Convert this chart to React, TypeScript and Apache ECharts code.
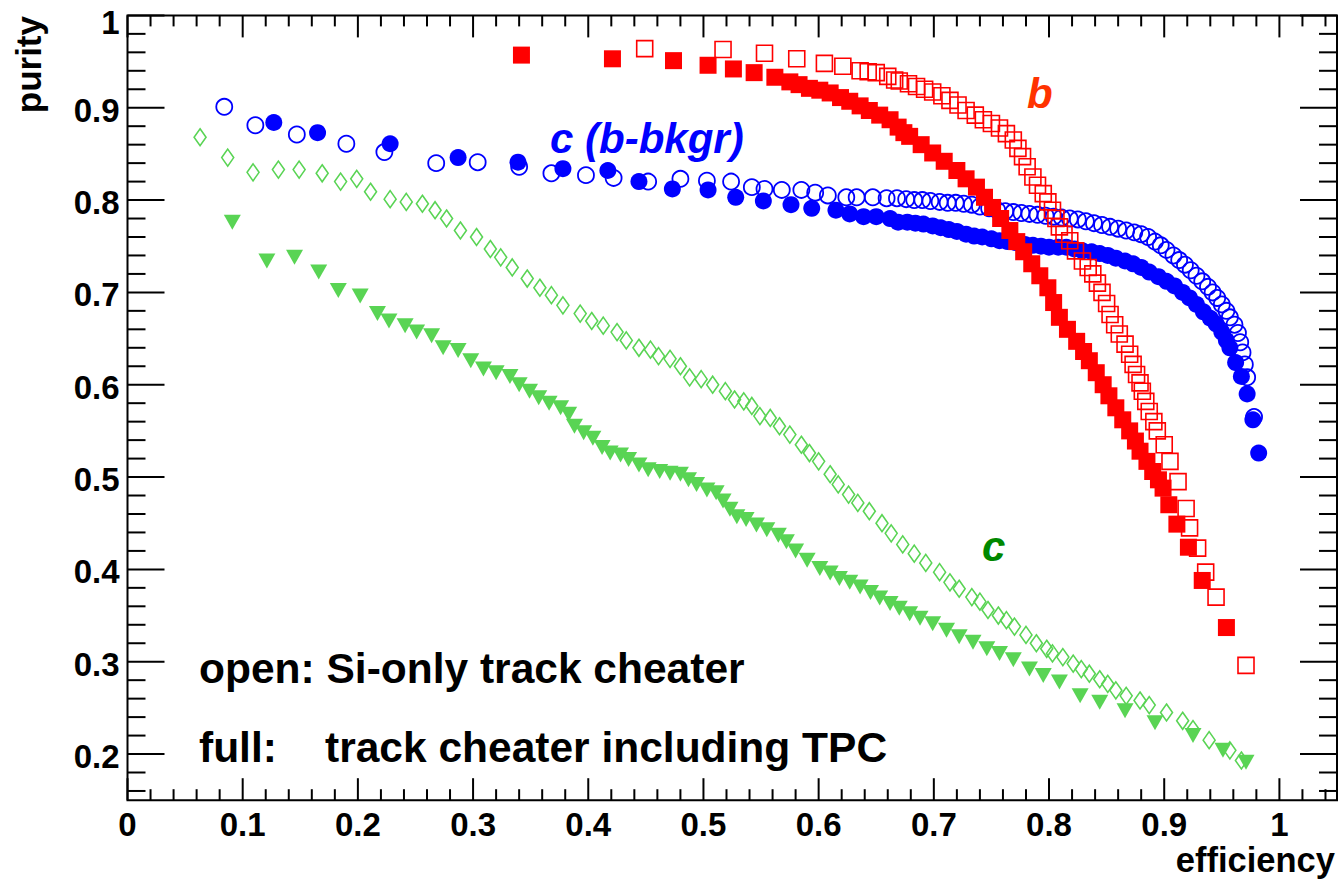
import React, { useEffect, useRef } from 'react';
import * as echarts from 'echarts';

// Axis ranges
const X_MIN = 0;
const X_MAX = 1.05;
const Y_MIN = 0.15;
const Y_MAX = 1.0;

// Tick positions (major ticks carry labels)
const xMajorTicks = [0, 0.1, 0.2, 0.3, 0.4, 0.5, 0.6, 0.7, 0.8, 0.9, 1.0];
const yMajorTicks = [0.2, 0.3, 0.4, 0.5, 0.6, 0.7, 0.8, 0.9, 1.0];
const steps = (from: number, to: number, step: number) => {
  const out: number[] = [];
  for (let v = from; v <= to + 1e-9; v += step) out.push(Math.round(v * 1000) / 1000);
  return out;
};
const isMajor = (v: number) => Math.abs(v * 10 - Math.round(v * 10)) < 1e-6;
const xMinorTicks = steps(0.02, 1.04, 0.02).filter((v) => !isMajor(v));
const yMinorTicks = steps(0.16, 0.98, 0.02).filter((v) => !isMajor(v));

// b tagging, track cheater including TPC (full squares)
const bFull: [number, number][] = [
  [0.342, 0.957], [0.421, 0.953], [0.474, 0.951], [0.504, 0.946], [0.526, 0.942], [0.544, 0.938],
  [0.562, 0.933], [0.575, 0.928], [0.583, 0.925], [0.592, 0.921], [0.601, 0.919], [0.610, 0.916],
  [0.619, 0.911], [0.627, 0.907], [0.636, 0.902], [0.644, 0.897], [0.653, 0.892], [0.662, 0.887],
  [0.669, 0.879], [0.674, 0.873], [0.679, 0.869], [0.689, 0.860], [0.699, 0.851], [0.709, 0.842],
  [0.720, 0.832], [0.728, 0.823], [0.737, 0.814], [0.744, 0.803], [0.751, 0.792], [0.758, 0.780],
  [0.766, 0.767], [0.772, 0.755], [0.778, 0.744], [0.785, 0.731], [0.792, 0.718], [0.799, 0.705],
  [0.804, 0.689], [0.809, 0.673], [0.816, 0.660], [0.824, 0.647], [0.830, 0.636], [0.835, 0.626],
  [0.841, 0.613], [0.847, 0.600], [0.852, 0.588], [0.858, 0.575], [0.864, 0.562], [0.870, 0.550],
  [0.875, 0.539], [0.879, 0.528], [0.885, 0.517], [0.890, 0.506], [0.895, 0.497], [0.899, 0.488],
  [0.904, 0.470], [0.911, 0.449], [0.921, 0.424], [0.933, 0.388], [0.954, 0.337],
];

// b tagging, Si-only track cheater (open squares)
const bOpen: [number, number][] = [
  [0.449, 0.964], [0.517, 0.963], [0.553, 0.959], [0.581, 0.953], [0.605, 0.948], [0.621, 0.945],
  [0.636, 0.940], [0.643, 0.939], [0.650, 0.938], [0.660, 0.934], [0.666, 0.930], [0.670, 0.929],
  [0.678, 0.926], [0.685, 0.923], [0.692, 0.920], [0.699, 0.917], [0.707, 0.913], [0.714, 0.908],
  [0.721, 0.903], [0.728, 0.897], [0.736, 0.892], [0.743, 0.887], [0.750, 0.883], [0.757, 0.878],
  [0.763, 0.872], [0.769, 0.865], [0.773, 0.856], [0.777, 0.847], [0.781, 0.836], [0.786, 0.825],
  [0.790, 0.816], [0.795, 0.807], [0.799, 0.798], [0.803, 0.789], [0.806, 0.780], [0.809, 0.771],
  [0.813, 0.763], [0.818, 0.756], [0.823, 0.745], [0.829, 0.734], [0.834, 0.727], [0.838, 0.720],
  [0.842, 0.710], [0.846, 0.700], [0.850, 0.688], [0.853, 0.676], [0.857, 0.665], [0.861, 0.655],
  [0.866, 0.644], [0.870, 0.633], [0.873, 0.622], [0.876, 0.611], [0.879, 0.602], [0.881, 0.593],
  [0.884, 0.582], [0.887, 0.571], [0.891, 0.560], [0.894, 0.550], [0.900, 0.535], [0.905, 0.517],
  [0.912, 0.495], [0.919, 0.466], [0.922, 0.445], [0.929, 0.423], [0.936, 0.397], [0.945, 0.370],
  [0.971, 0.296],
];

// c tagging with b background, track cheater including TPC (full circles)
const cbFull: [number, number][] = [
  [0.127, 0.884], [0.165, 0.873], [0.228, 0.861], [0.287, 0.846], [0.339, 0.841], [0.378, 0.834],
  [0.417, 0.832], [0.444, 0.820], [0.473, 0.812], [0.504, 0.811], [0.528, 0.803], [0.552, 0.799],
  [0.576, 0.795], [0.594, 0.791], [0.615, 0.789], [0.627, 0.785], [0.639, 0.782], [0.650, 0.782],
  [0.662, 0.780], [0.669, 0.776], [0.677, 0.776], [0.684, 0.775], [0.691, 0.774], [0.699, 0.772],
  [0.706, 0.770], [0.713, 0.768], [0.720, 0.766], [0.728, 0.763], [0.735, 0.761], [0.742, 0.760],
  [0.750, 0.758], [0.757, 0.756], [0.764, 0.755], [0.771, 0.754], [0.779, 0.752], [0.786, 0.751],
  [0.793, 0.750], [0.800, 0.749], [0.808, 0.749], [0.815, 0.749], [0.822, 0.747], [0.829, 0.745],
  [0.837, 0.744], [0.844, 0.742], [0.851, 0.740], [0.858, 0.737], [0.866, 0.734], [0.873, 0.731],
  [0.880, 0.727], [0.887, 0.722], [0.895, 0.717], [0.902, 0.712], [0.909, 0.707], [0.916, 0.700],
  [0.922, 0.694], [0.928, 0.687], [0.934, 0.679], [0.940, 0.672], [0.945, 0.666], [0.950, 0.657],
  [0.954, 0.648], [0.957, 0.640], [0.962, 0.624], [0.967, 0.609], [0.972, 0.590], [0.977, 0.562],
  [0.982, 0.526],
];

// c tagging with b background, Si-only track cheater (open circles)
const cbOpen: [number, number][] = [
  [0.084, 0.901], [0.111, 0.881], [0.147, 0.871], [0.190, 0.861], [0.223, 0.852], [0.268, 0.840],
  [0.304, 0.841], [0.340, 0.836], [0.368, 0.829], [0.398, 0.827], [0.422, 0.824], [0.452, 0.820],
  [0.480, 0.823], [0.503, 0.821], [0.524, 0.820], [0.542, 0.814], [0.553, 0.812], [0.568, 0.811],
  [0.585, 0.811], [0.597, 0.808], [0.608, 0.805], [0.624, 0.803], [0.633, 0.803], [0.647, 0.803],
  [0.659, 0.802], [0.668, 0.802], [0.676, 0.801], [0.683, 0.800], [0.690, 0.800], [0.697, 0.799],
  [0.705, 0.798], [0.712, 0.797], [0.719, 0.797], [0.726, 0.796], [0.733, 0.795], [0.740, 0.793],
  [0.748, 0.791], [0.755, 0.789], [0.762, 0.788], [0.769, 0.787], [0.776, 0.786], [0.783, 0.785],
  [0.790, 0.784], [0.797, 0.783], [0.804, 0.782], [0.811, 0.781], [0.818, 0.780], [0.825, 0.779],
  [0.832, 0.777], [0.839, 0.775], [0.846, 0.773], [0.853, 0.771], [0.860, 0.769], [0.867, 0.767],
  [0.874, 0.765], [0.880, 0.763], [0.886, 0.760], [0.892, 0.755], [0.897, 0.751], [0.902, 0.746],
  [0.908, 0.740], [0.913, 0.735], [0.918, 0.730], [0.923, 0.724], [0.928, 0.718], [0.933, 0.712],
  [0.938, 0.706], [0.942, 0.700], [0.946, 0.694], [0.950, 0.687], [0.954, 0.680], [0.957, 0.673],
  [0.961, 0.665], [0.964, 0.656], [0.966, 0.646], [0.968, 0.635], [0.970, 0.622], [0.972, 0.608],
  [0.978, 0.565],
];

// c tagging, track cheater including TPC (full triangles)
const cFull: [number, number][] = [
  [0.091, 0.776], [0.121, 0.734], [0.145, 0.738], [0.166, 0.722], [0.183, 0.702], [0.202, 0.696],
  [0.217, 0.677], [0.227, 0.669], [0.241, 0.664], [0.251, 0.657], [0.264, 0.653], [0.274, 0.640],
  [0.287, 0.637], [0.298, 0.626], [0.309, 0.617], [0.320, 0.613], [0.332, 0.609], [0.340, 0.600],
  [0.349, 0.593], [0.357, 0.586], [0.366, 0.580], [0.376, 0.575], [0.383, 0.568], [0.388, 0.555],
  [0.396, 0.548], [0.404, 0.542], [0.412, 0.532], [0.419, 0.526], [0.428, 0.524], [0.435, 0.519],
  [0.444, 0.513], [0.452, 0.508], [0.462, 0.506], [0.471, 0.504], [0.480, 0.503], [0.487, 0.497],
  [0.494, 0.492], [0.503, 0.486], [0.511, 0.483], [0.517, 0.474], [0.523, 0.465], [0.529, 0.457],
  [0.537, 0.454], [0.546, 0.448], [0.555, 0.443], [0.565, 0.437], [0.572, 0.430], [0.580, 0.420],
  [0.590, 0.410], [0.601, 0.401], [0.610, 0.396], [0.618, 0.390], [0.627, 0.386], [0.636, 0.381],
  [0.645, 0.375], [0.653, 0.369], [0.662, 0.363], [0.670, 0.358], [0.679, 0.352], [0.688, 0.347],
  [0.699, 0.341], [0.711, 0.334], [0.722, 0.327], [0.734, 0.321], [0.746, 0.314], [0.757, 0.309],
  [0.769, 0.302], [0.783, 0.292], [0.795, 0.285], [0.809, 0.278], [0.827, 0.263], [0.844, 0.256],
  [0.866, 0.247], [0.892, 0.234], [0.925, 0.220], [0.951, 0.204], [0.971, 0.191],
];

// c tagging, Si-only track cheater (open diamonds)
const cOpen: [number, number][] = [
  [0.063, 0.868], [0.087, 0.846], [0.109, 0.830], [0.131, 0.833], [0.149, 0.833], [0.169, 0.829],
  [0.185, 0.820], [0.199, 0.823], [0.211, 0.809], [0.228, 0.801], [0.242, 0.798], [0.256, 0.796],
  [0.267, 0.789], [0.277, 0.780], [0.289, 0.767], [0.303, 0.760], [0.315, 0.747], [0.324, 0.738],
  [0.334, 0.727], [0.347, 0.715], [0.358, 0.705], [0.368, 0.697], [0.378, 0.686], [0.393, 0.677],
  [0.403, 0.669], [0.413, 0.664], [0.425, 0.657], [0.433, 0.648], [0.444, 0.640], [0.454, 0.638],
  [0.461, 0.631], [0.471, 0.628], [0.480, 0.620], [0.488, 0.608], [0.498, 0.606], [0.508, 0.600],
  [0.519, 0.593], [0.527, 0.584], [0.535, 0.582], [0.542, 0.577], [0.549, 0.566], [0.558, 0.564],
  [0.566, 0.555], [0.575, 0.546], [0.585, 0.535], [0.592, 0.526], [0.600, 0.517], [0.610, 0.503],
  [0.617, 0.492], [0.626, 0.481], [0.634, 0.472], [0.644, 0.463], [0.655, 0.450], [0.663, 0.439],
  [0.673, 0.427], [0.683, 0.417], [0.693, 0.407], [0.705, 0.397], [0.714, 0.386], [0.722, 0.379],
  [0.733, 0.370], [0.740, 0.365], [0.747, 0.356], [0.756, 0.350], [0.763, 0.345], [0.770, 0.338],
  [0.780, 0.329], [0.789, 0.320], [0.798, 0.314], [0.803, 0.309], [0.812, 0.305], [0.821, 0.298],
  [0.828, 0.292], [0.835, 0.287], [0.844, 0.281], [0.851, 0.276], [0.858, 0.269], [0.867, 0.263],
  [0.879, 0.258], [0.887, 0.253], [0.902, 0.245], [0.916, 0.236], [0.925, 0.227], [0.939, 0.215],
  [0.957, 0.204], [0.967, 0.193],
];

const RED = '#ff0000';
const BLUE = '#0000ff';
const GREEN = '#59d454';
const FONT = '"Liberation Sans", Arial, Helvetica, sans-serif';

const xTickLabel = (v: number) => (isMajor(v) ? String(Math.round(v * 10) / 10) : '');
// the topmost y label sits a little lower so that it stays inside the page
const yTickLabel = (v: number) => {
  if (!isMajor(v)) return '';
  const s = String(Math.round(v * 10) / 10);
  return Math.abs(v - Y_MAX) < 1e-6 ? `{top|${s}}` : `{std|${s}}`;
};

// tick records: [value, axis (0 = x, 1 = y), major flag]
const tickData: [number, number, number][] = [
  ...xMajorTicks.map((v) => [v, 0, 1] as [number, number, number]),
  ...xMinorTicks.map((v) => [v, 0, 0] as [number, number, number]),
  ...yMajorTicks.map((v) => [v, 1, 1] as [number, number, number]),
  ...yMinorTicks.map((v) => [v, 1, 0] as [number, number, number]),
];

export default function App() {
  const ref = useRef<HTMLDivElement>(null);

  useEffect(() => {
    if (!ref.current) return;
    const chart = echarts.init(ref.current, undefined, { renderer: 'svg' });

    const tickStyle = { stroke: '#000', lineWidth: 2 };
    const labelFont = {
      color: '#000',
      fontSize: 33,
      fontWeight: 'bold',
      fontFamily: FONT,
    };
    const textStyle = (text: string, extra: any = {}) => ({
      text,
      fill: '#000',
      fontSize: 42.5,
      fontWeight: 'bold',
      fontFamily: FONT,
      align: 'left',
      verticalAlign: 'middle',
      ...extra,
    });

    const option: any = {
      animation: false,
      backgroundColor: '#fff',
      grid: {
        left: 127.5,
        top: 15.4,
        width: 1210,
        height: 784.8,
        show: true,
        borderColor: '#000',
        borderWidth: 2,
        backgroundColor: 'transparent',
      },
      xAxis: {
        type: 'value',
        min: X_MIN,
        max: X_MAX,
        interval: 0.1,
        axisLine: { show: false },
        axisTick: { show: false },
        splitLine: { show: false },
        axisLabel: {
          ...labelFont,
          lineHeight: 26,
          formatter: xTickLabel,
          margin: 11,
          showMinLabel: true,
          showMaxLabel: true,
        },
      },
      yAxis: {
        type: 'value',
        min: Y_MIN,
        max: Y_MAX,
        minInterval: 0.1,
        maxInterval: 0.1,
        splitNumber: 8,
        axisLine: { show: false },
        axisTick: { show: false },
        splitLine: { show: false },
        axisLabel: {
          ...labelFont,
          formatter: yTickLabel,
          margin: 8,
          showMinLabel: true,
          showMaxLabel: true,
          rich: {
            std: { ...labelFont, padding: [5, 0, 0, 0] },
            top: { ...labelFont, padding: [14, 0, 0, 0] },
          },
        },
      },
      series: [
        {
          type: 'scatter',
          name: 'c open',
          data: cOpen,
          symbol: 'diamond',
          symbolSize: [12, 17],
          itemStyle: { color: 'rgba(0,0,0,0)', borderColor: GREEN, borderWidth: 1.6, opacity: 1 },
          z: 2,
        },
        {
          type: 'scatter',
          name: 'c full',
          data: cFull,
          symbol: 'triangle',
          symbolRotate: 180,
          symbolSize: [17, 15],
          itemStyle: { color: GREEN, opacity: 1 },
          z: 3,
        },
        {
          type: 'scatter',
          name: 'c (b-bkgr) open',
          data: cbOpen,
          symbol: 'circle',
          symbolSize: 16,
          itemStyle: { color: 'rgba(0,0,0,0)', borderColor: BLUE, borderWidth: 1.8, opacity: 1 },
          z: 4,
        },
        {
          type: 'scatter',
          name: 'c (b-bkgr) full',
          data: cbFull,
          symbol: 'circle',
          symbolSize: 17,
          itemStyle: { color: BLUE, opacity: 1 },
          z: 5,
        },
        {
          type: 'scatter',
          name: 'b full',
          data: bFull,
          symbol: 'rect',
          symbolSize: 17,
          itemStyle: { color: RED, opacity: 1 },
          z: 6,
        },
        {
          type: 'scatter',
          name: 'b open',
          data: bOpen,
          symbol: 'rect',
          symbolSize: 16,
          itemStyle: { color: 'rgba(0,0,0,0)', borderColor: RED, borderWidth: 1.6, opacity: 1 },
          z: 7,
        },
        {
          type: 'custom',
          name: 'ticks',
          silent: true,
          clip: false,
          z: 10,
          data: tickData,
          renderItem: (params: any, api: any) => {
            const v = api.value(0);
            const axis = api.value(1);
            const major = api.value(2) === 1;
            const bl = api.coord([X_MIN, Y_MIN]);
            const tr = api.coord([X_MAX, Y_MAX]);
            if (axis === 0) {
              const px = api.coord([v, Y_MIN])[0];
              const len = major ? 22 : 11;
              return {
                type: 'group',
                children: [
                  { type: 'line', shape: { x1: px, y1: bl[1], x2: px, y2: bl[1] - len }, style: tickStyle },
                  { type: 'line', shape: { x1: px, y1: tr[1], x2: px, y2: tr[1] + len }, style: tickStyle },
                ],
              };
            }
            const py = api.coord([X_MIN, v])[1];
            const len = major ? 37 : 18;
            return {
              type: 'group',
              children: [
                { type: 'line', shape: { x1: bl[0], y1: py, x2: bl[0] + len, y2: py }, style: tickStyle },
                { type: 'line', shape: { x1: tr[0], y1: py, x2: tr[0] - len, y2: py }, style: tickStyle },
              ],
            };
          },
        },
      ],
      graphic: [
        {
          type: 'text',
          x: 28,
          y: 16,
          rotation: Math.PI / 2,
          style: textStyle('purity', { fontSize: 35, align: 'right' }),
        },
        {
          type: 'text',
          x: 1335,
          y: 860,
          style: textStyle('efficiency', { fontSize: 34.5, lineHeight: 28, align: 'right' }),
        },
        { type: 'text', x: 199, y: 668, style: textStyle('open: Si-only track cheater') },
        { type: 'text', x: 199, y: 747, style: textStyle('full:') },
        { type: 'text', x: 325, y: 747, style: textStyle('track cheater including TPC') },
        {
          type: 'text',
          x: 550,
          y: 138,
          style: textStyle('c (b-bkgr)', { fill: BLUE, fontSize: 42, fontStyle: 'italic' }),
        },
        {
          type: 'text',
          x: 1027,
          y: 93,
          style: textStyle('b', { fill: '#ff3300', fontSize: 42, fontStyle: 'italic' }),
        },
        {
          type: 'text',
          x: 982,
          y: 546,
          style: textStyle('c', { fill: '#008800', fontSize: 42, fontStyle: 'italic' }),
        },
      ],
    };

    chart.setOption(option);
    return () => chart.dispose();
  }, []);

  return (
    <div
      ref={ref}
      style={{ position: 'fixed', left: 0, top: 0, width: 1340, height: 880, background: '#fff' }}
    />
  );
}
